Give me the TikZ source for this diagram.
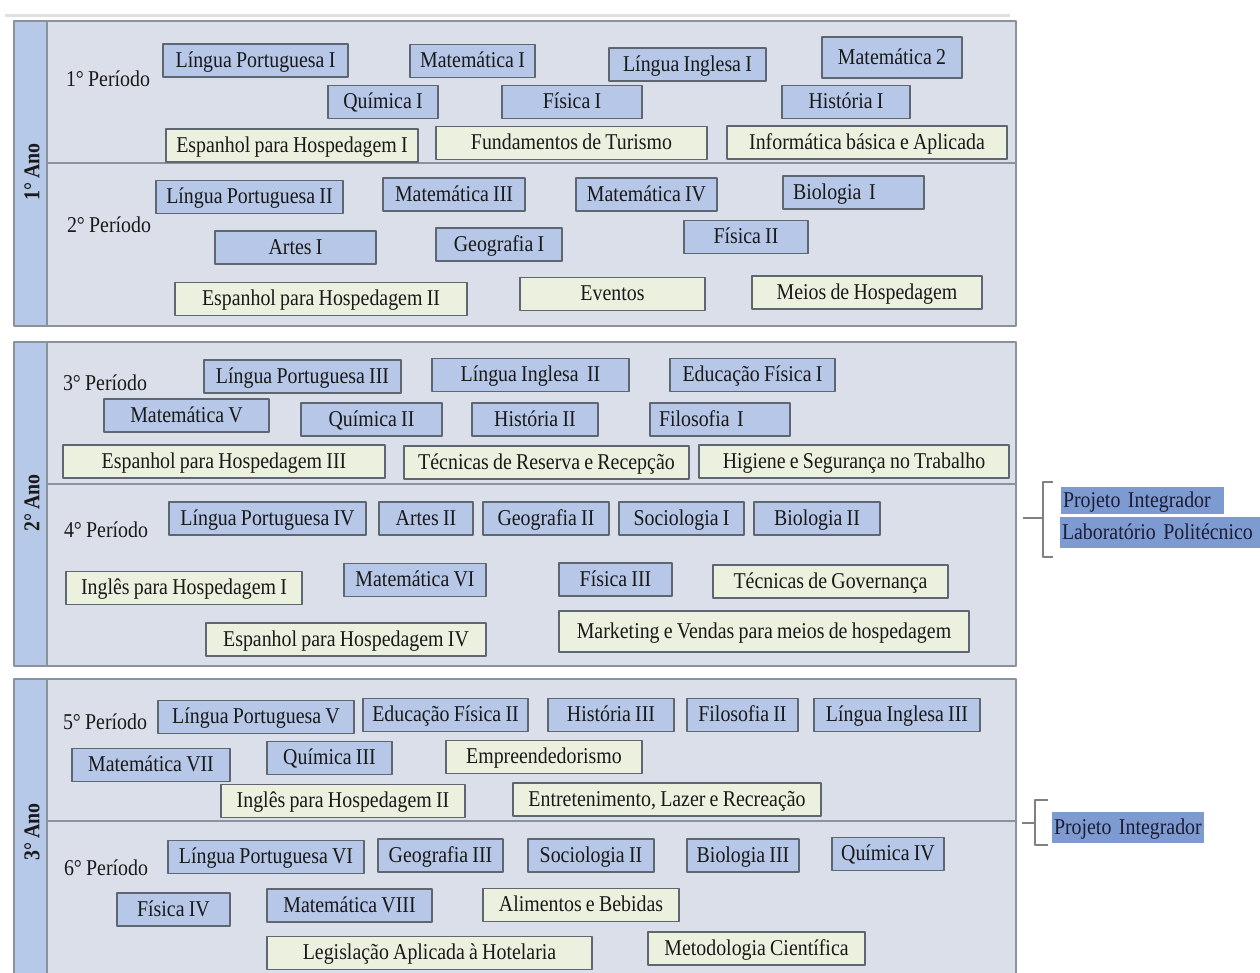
\documentclass[tikz,border=0pt]{standalone}
\usepackage{fontspec}
\setmainfont{Liberation Serif}[FakeStretch=0.88, WordSpace=0.85]
\usepackage{xcolor}
\usepackage{tikz}
\definecolor{fundo}{RGB}{218,223,233}
\definecolor{colano}{RGB}{183,201,232}
\definecolor{caixaazul}{RGB}{182,199,231}
\definecolor{caixaverde}{RGB}{235,241,222}
\definecolor{borda}{RGB}{94,102,114}
\definecolor{moldura}{RGB}{138,146,158}
\definecolor{rotulo}{RGB}{125,155,208}
\definecolor{textoesc}{RGB}{28,28,55}
\tikzstyle{disc} = [draw=borda, line width=0.9pt, inner sep=0pt, minimum height=16.5pt, text=black!90, font=\fontsize{11.3}{13}\selectfont, text height=2ex, text depth=0.5ex]
\tikzstyle{azul} = [disc, fill=caixaazul]
\tikzstyle{verde} = [disc, fill=caixaverde]
\tikzstyle{periodo} = [inner sep=0pt, text=black!90, font=\fontsize{11.3}{13}\selectfont]
\tikzstyle{ano} = [inner sep=0pt, rotate=90, text=black!90, font=\fontsize{11.3}{13}\selectfont\bfseries]
\tikzstyle{proj} = [fill=rotulo, inner xsep=1pt, inner ysep=0pt, align=left, text=textoesc, font=\fontsize{11.3}{13}\selectfont, text height=2ex, text depth=0.5ex]
\tikzstyle{chave} = [draw=black!50, line width=0.6pt]
\tikzset{larg/.style={minimum width=#1*0.5pt}, alt/.style={minimum height=#1*0.5pt}}

\begin{document}
\begin{tikzpicture}[line join=round, x=0.5pt, y=-0.5pt]
\useasboundingbox (0,0) rectangle (1260,973);
\draw[black!12, line width=1.5pt] (5,16) -- (1010,16);
% 1o ano
\fill[fundo] (47,21) rectangle (1016,326);
\fill[colano] (14,21) rectangle (47,326);
\draw[moldura, line width=1pt] (14,21) rectangle (1016,326);
\draw[moldura, line width=1pt] (47,21) -- (47,326);
\draw[moldura, line width=1pt] (47,163) -- (1016,163);
\node[ano] (ano1) at (32,172) {1° Ano};
\node[periodo] (per1) at (108,79) {1° Período};
\node[azul, larg=185] (lport1) at (255.5,60.5) {Língua Portuguesa I};
\node[azul, larg=125] (mat1) at (472.5,61) {Matemática I};
\node[azul, larg=157] (ling1) at (687.5,64.5) {Língua Inglesa I};
\node[azul, larg=140, alt=41] (mat2) at (892,57.5) {Matemática 2};
\node[azul, larg=110] (quim1) at (383,102) {Química I};
\node[azul, larg=140] (fis1) at (572,102) {Física I};
\node[azul, larg=128] (hist1) at (846,102) {História I};
\node[verde, larg=252] (esp1) at (292,145.5) {Espanhol para Hospedagem I};
\node[verde, larg=271] (fundtur) at (571.5,143) {Fundamentos de Turismo};
\node[verde, larg=280] (info) at (867,142.5) {Informática básica e Aplicada};
\node[periodo] (per2) at (109,225) {2° Período};
\node[azul, larg=187] (lport2) at (249.5,197) {Língua Portuguesa II};
\node[azul, larg=142] (mat3) at (454,194.5) {Matemática III};
\node[azul, larg=141] (mat4) at (646.5,194.5) {Matemática IV};
\node[azul, inner xsep=5pt, text width=60.5pt, align=left] (bio1) at (853.5,192.5) {Biologia I};
\node[azul, larg=161] (art1) at (295.5,247.5) {Artes I};
\node[azul, larg=126] (geo1) at (499,244.5) {Geografia I};
\node[azul, larg=124] (fis2) at (746,237) {Física II};
\node[verde, larg=292] (esp2) at (321,299) {Espanhol para Hospedagem II};
\node[verde, larg=185] (eventos) at (612.5,294) {Eventos};
\node[verde, larg=230] (meios) at (867,292.5) {Meios de Hospedagem};
% 2o ano
\fill[fundo] (47,342) rectangle (1016,666);
\fill[colano] (14,342) rectangle (47,666);
\draw[moldura, line width=1pt] (14,342) rectangle (1016,666);
\draw[moldura, line width=1pt] (47,342) -- (47,666);
\draw[moldura, line width=1pt] (47,484) -- (1016,484);
\node[ano] (ano2) at (32,503) {2° Ano};
\node[periodo] (per3) at (105,383) {3° Período};
\node[azul, larg=197] (lport3) at (302.5,376.5) {Língua Portuguesa III};
\node[azul, larg=197] (ling2) at (530.5,375) {Língua Inglesa\ \ II};
\node[azul, larg=165] (edf1) at (752.5,375) {Educação Física I};
\node[azul, larg=165] (mat5) at (186.5,415.5) {Matemática V};
\node[azul, larg=141] (quim2) at (371.5,419.5) {Química II};
\node[azul, larg=126] (hist2) at (535,419.5) {História II};
\node[azul, inner xsep=4.5pt, text width=61pt, align=left] (filo1) at (720,419.5) {Filosofia I};
\node[verde, larg=322] (esp3) at (224,461.5) {Espanhol para Hospedagem III};
\node[verde, larg=285] (reserva) at (546.5,462.5) {Técnicas de Reserva e Recepção};
\node[verde, larg=310] (higiene) at (854,461.5) {Higiene e Segurança no Trabalho};
\node[periodo] (per4) at (106,530) {4° Período};
\node[azul, larg=197] (lport4) at (267.5,518.5) {Língua Portuguesa IV};
\node[azul, larg=94] (art2) at (426,518.5) {Artes II};
\node[azul, larg=126] (geo2) at (546,518.5) {Geografia II};
\node[azul, larg=125] (soc1) at (681.5,518.5) {Sociologia I};
\node[azul, larg=126] (bio2) at (817,518.5) {Biologia II};
\node[verde, larg=236] (ingl1) at (184,588) {Inglês para Hospedagem I};
\node[azul, larg=142] (mat6) at (415,580) {Matemática VI};
\node[azul, larg=113] (fis3) at (615.5,579.5) {Física III};
\node[verde, larg=235] (govern) at (830.5,581.5) {Técnicas de Governança};
\node[verde, larg=280] (esp4) at (346,639.5) {Espanhol para Hospedagem IV};
\node[verde, larg=410, alt=41] (mkt) at (764,631.5) {Marketing e Vendas para meios de hospedagem};
% 3o ano
\fill[fundo] (47,679) rectangle (1016,973);
\fill[colano] (14,679) rectangle (47,973);
\draw[moldura, line width=1pt] (14,973) -- (14,679) -- (1016,679) -- (1016,973);
\draw[moldura, line width=1pt] (47,679) -- (47,973);
\draw[moldura, line width=1pt] (47,821) -- (1016,821);
\node[ano] (ano3) at (32,832) {3° Ano};
\node[periodo] (per5) at (105,722) {5° Período};
\node[azul, larg=196] (lport5) at (256,717) {Língua Portuguesa V};
\node[azul, larg=165] (edf2) at (445.5,715) {Educação Física II};
\node[azul, larg=126] (hist3) at (611,715) {História III};
\node[azul, larg=111] (filo2) at (742.5,715) {Filosofia II};
\node[azul, larg=166] (ling3) at (897,715) {Língua Inglesa III};
\node[azul, larg=158] (mat7) at (151,765) {Matemática VII};
\node[azul, larg=125] (quim3) at (329.5,758) {Química III};
\node[verde, larg=196] (empreend) at (544,757) {Empreendedorismo};
\node[verde, larg=244] (ingl2) at (343,801) {Inglês para Hospedagem II};
\node[verde, larg=308] (entret) at (667,799.5) {Entretenimento, Lazer e Recreação};
\node[periodo] (per6) at (106,868) {6° Período};
\node[azul, larg=196] (lport6) at (266,857) {Língua Portuguesa VI};
\node[azul, larg=125] (geo3) at (440.5,855.5) {Geografia III};
\node[azul, larg=126] (soc2) at (591,855.5) {Sociologia II};
\node[azul, larg=112] (bio3) at (743,855.5) {Biologia III};
\node[azul, larg=112] (quim4) at (888,854) {Química IV};
\node[azul, larg=113] (fis4) at (173.5,909.5) {Física IV};
\node[azul, larg=165] (mat8) at (349.5,905.5) {Matemática VIII};
\node[verde, larg=196] (alim) at (581,905) {Alimentos e Bebidas};
\node[verde, larg=325] (legis) at (429.5,953) {Legislação Aplicada à Hotelaria};
\node[verde, larg=217] (metod) at (756.5,948.5) {Metodologia Científica};
% chaves laterais
\draw[chave] (1023,518) -- (1043,518);
\draw[chave] (1053,482) -- (1043,482) -- (1043,557) -- (1053,557);
\node[proj, text width=79.5pt, alt=27] (projint2) at (1142.5,500.5) {Projeto Integrador};
\node[proj, text width=98pt, alt=31] (labpoli) at (1160,532.5) {Laboratório Politécnico};
\draw[chave] (1022,823) -- (1035,823);
\draw[chave] (1048,800) -- (1035,800) -- (1035,845) -- (1048,845);
\node[proj, text width=74pt, alt=31] (projint3) at (1128,827.5) {\mbox{Projeto Integrador}};
\end{tikzpicture}
\end{document}
